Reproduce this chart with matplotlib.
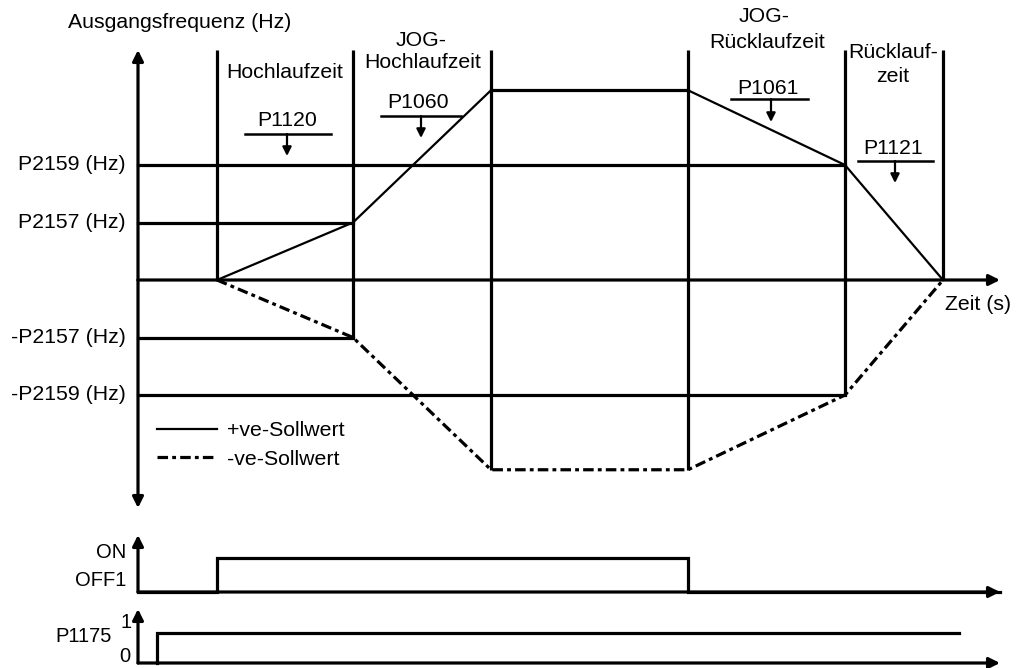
import matplotlib
matplotlib.use("Agg")
import matplotlib.pyplot as plt

plt.rcParams['font.family'] = ['Liberation Sans', 'DejaVu Sans']

# ---------------- data ----------------
# time instants of the phases (arbitrary time units, 0 = ON command)
t_phases = [0.0, 1.36, 2.74, 4.71, 6.28, 7.26]   # start, end Hochlauf, end JOG-Hochlauf, OFF1, end JOG-Rücklauf, stop
# frequency levels (Hz)
P2157 = 10.0
P2159 = 20.0
f_jog = 33.0
pos_setpoint = [0.0, P2157, f_jog, f_jog, P2159, 0.0]
neg_setpoint = [0.0, -P2157, -f_jog, -f_jog, -P2159, 0.0]
ytick_values = [P2159, P2157, -P2157, -P2159]
ytick_labels = ['P2159 (Hz)', 'P2157 (Hz)', '-P2157 (Hz)', '-P2159 (Hz)']
# digital signals
on_t = [-0.79, 0.0, 0.0, 4.71, 4.71, 7.83]
on_v = [0, 0, 1, 1, 0, 0]
p1175_t = [-0.60, -0.60, 7.42]
p1175_v = [0, 1, 1]
legend_labels = ['+ve-Sollwert', '-ve-Sollwert']

# ---------------- layout ----------------
W, H = 1018, 668
fig = plt.figure(figsize=(W / 100, H / 100), dpi=100)
px_per_t = 100.0
x0_px = 217.0
xlim = (-x0_px / px_per_t, (W - x0_px) / px_per_t)
t_axis = -0.79
t_end = 7.83

# main axes (full figure), y in Hz
px_per_hz = 5.75
y0_px = 280.0
ax = fig.add_axes([0, 0, 1, 1])
ax.set_xlim(*xlim)
ax.set_ylim(-(H - y0_px) / px_per_hz, y0_px / px_per_hz)
ax.axis('off')

def hz(py):
    return (y0_px - py) / px_per_hz

def tx(px):
    return (px - x0_px) / px_per_t

LW_AX = 2.3
LW_RAMP = 1.6
fs = 15.3
fs_small = 14.5

arrow_kw = dict(arrowstyle='-|>', lw=LW_AX, color='black', mutation_scale=16,
                shrinkA=0, shrinkB=0)

# y axis (double arrow)
ax.annotate('', xy=(t_axis, hz(50)), xytext=(t_axis, 0), arrowprops=arrow_kw)
ax.annotate('', xy=(t_axis, hz(508)), xytext=(t_axis, 0), arrowprops=arrow_kw)
# time axis
ax.annotate('', xy=(t_end, 0), xytext=(t_axis, 0), arrowprops=arrow_kw)

# vertical phase lines
top = hz(50)
v_bottoms = [0.0, -P2157, -f_jog, -f_jog, -P2159, 0.0]
for t, b in zip(t_phases, v_bottoms):
    ax.plot([t, t], [b, top], color='black', lw=LW_AX, solid_capstyle='butt')

# horizontal reference lines
ax.plot([t_axis, t_phases[4]], [P2159, P2159], color='black', lw=LW_AX)
ax.plot([t_axis, t_phases[1]], [P2157, P2157], color='black', lw=LW_AX)
ax.plot([t_axis, t_phases[1]], [-P2157, -P2157], color='black', lw=LW_AX)
ax.plot([t_axis, t_phases[4]], [-P2159, -P2159], color='black', lw=LW_AX)

# setpoint curves
l1, = ax.plot(t_phases, pos_setpoint, color='black', lw=LW_RAMP,
              label=legend_labels[0])
l2, = ax.plot(t_phases, neg_setpoint, color='black', lw=2.3,
              dashes=(3.3, 1.3, 1.2, 1.3), dash_capstyle='butt',
              label=legend_labels[1])
ax.plot(t_phases[2:4], pos_setpoint[2:4], color='black', lw=LW_AX)

# y labels
for v, lab in zip(ytick_values, ytick_labels):
    ax.text(tx(126), v, lab, ha='right', va='center', fontsize=fs)

# texts
def T(px, py, s, **kw):
    ax.text(tx(px), hz(py), s, ha='center', va='center', fontsize=fs, **kw)

T(180, 22, 'Ausgangsfrequenz (Hz)')
T(285, 73, 'Hochlaufzeit')
T(421, 40, 'JOG-')
T(423, 63, 'Hochlaufzeit')
T(764, 17, 'JOG-')
T(767, 42, 'Rücklaufzeit')
T(893, 52, 'Rücklauf-')
T(893, 77, 'zeit')
T(978, 305, 'Zeit (s)')

# parameter annotations: (label, text center x, text y, line x0, line x1, line y, arrow x, arrow tip y)
params = [('P1120', 287, 121, 245, 331, 134, 287, 156),
          ('P1060', 418, 103, 381, 461, 116, 421, 138),
          ('P1061', 768, 88, 731, 808, 99, 771, 122),
          ('P1121', 893, 149, 858, 933, 161, 895, 183)]
for lab, cx, cy, lx0, lx1, ly, axx, ay in params:
    T(cx, cy, lab)
    ax.plot([tx(lx0), tx(lx1)], [hz(ly), hz(ly)], color='black', lw=1.8)
    ax.annotate('', xy=(tx(axx), hz(ay)), xytext=(tx(axx), hz(ly)),
                arrowprops=dict(arrowstyle='-|>', lw=1.6, color='black',
                                mutation_scale=13, shrinkA=0, shrinkB=0))

# legend
leg = ax.legend(handles=[l1, l2], loc='upper left',
                bbox_to_anchor=(157 / W, 1 - 421 / H), frameon=False,
                fontsize=fs, handlelength=2.8, handletextpad=0.5,
                labelspacing=0.45, borderpad=0.0, borderaxespad=0.0)

# ---------------- digital signal panels ----------------
def panel(base_px, one_px, row_top, row_bot):
    a = fig.add_axes([0, 1 - row_bot / H, 1, (row_bot - row_top) / H])
    scale = base_px - one_px
    a.set_xlim(*xlim)
    a.set_ylim(-(row_bot - base_px) / scale, (base_px - row_top) / scale)
    a.axis('off')
    return a, scale

ax_on, s_on = panel(592, 558, 528, 600)
ax_on.annotate('', xy=(t_end, 0), xytext=(t_axis, 0), arrowprops=arrow_kw)
ax_on.annotate('', xy=(t_axis, (592 - 535) / s_on), xytext=(t_axis, 0), arrowprops=arrow_kw)
ax_on.plot(on_t, on_v, color='black', lw=LW_AX, solid_joinstyle='miter')
ax_on.text(tx(126), (592 - 552) / s_on, 'ON', ha='right', va='center', fontsize=fs_small)
ax_on.text(tx(126), (592 - 581) / s_on, 'OFF1', ha='right', va='center', fontsize=fs_small)

ax_p, s_p = panel(663, 633, 600, 668)
ax_p.annotate('', xy=(t_end, 0), xytext=(t_axis, 0), arrowprops=arrow_kw)
ax_p.annotate('', xy=(t_axis, (663 - 609) / s_p), xytext=(t_axis, 0), arrowprops=arrow_kw)
ax_p.plot(p1175_t, p1175_v, color='black', lw=LW_AX, solid_joinstyle='miter')
ax_p.text(tx(112), (663 - 637) / s_p, 'P1175', ha='right', va='center', fontsize=fs_small)
ax_p.text(tx(132), (663 - 622) / s_p, '1', ha='right', va='center', fontsize=fs_small)
ax_p.text(tx(130), (663 - 656) / s_p, '0', ha='right', va='center', fontsize=fs_small)

fig.savefig('out.png', dpi=100)
